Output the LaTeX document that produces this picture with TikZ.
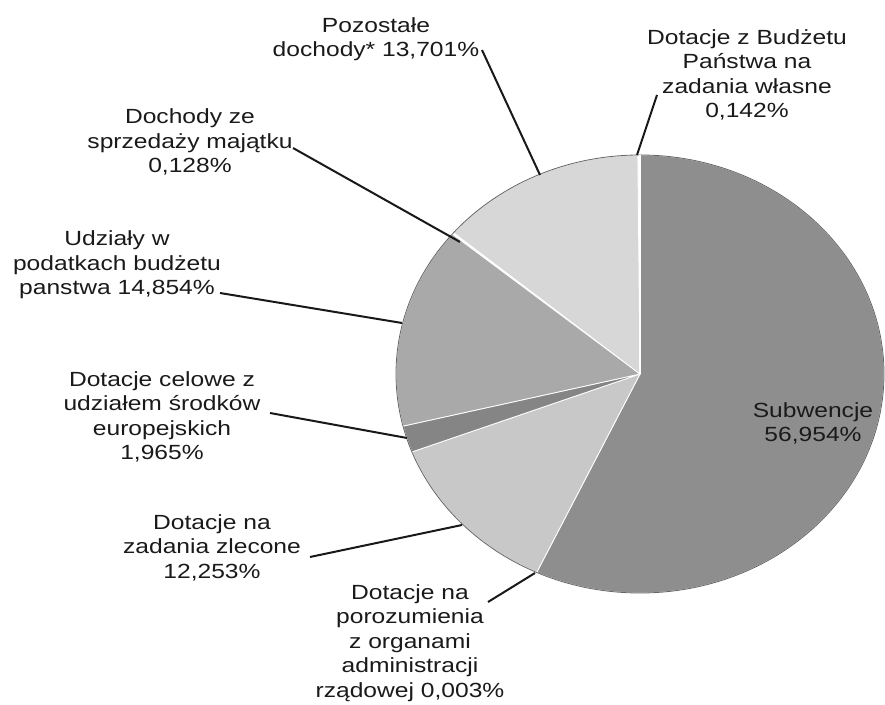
\documentclass[tikz,border=0pt]{standalone}
\usepackage{fontspec}
\setmainfont{Liberation Sans}[FakeStretch=1.2]
\begin{document}
\begin{tikzpicture}[x=1pt,y=1pt,
  lbl/.style={align=center,anchor=base,inner sep=0pt,text=txt,
    font=\fontsize{20.5}{24.5}\selectfont},
  leader/.style={draw=black!90,line width=2pt},
  slice/.style={draw=white,line width=0.8pt}]
\definecolor{txt}{HTML}{1A1A1A}
\definecolor{cSub}{HTML}{8E8E8E}
\definecolor{cZle}{HTML}{C8C8C8}
\definecolor{cCel}{HTML}{858585}
\definecolor{cUdz}{HTML}{A9A9A9}
\definecolor{cPoz}{HTML}{D7D7D7}
\useasboundingbox (0,0) rectangle (885,704);
\fill[white] (0,0) rectangle (885,704);
\coordinate (c) at (640,330);
% slices
\fill[cSub,slice] (c) -- ++(90:244pt and 219pt) arc[start angle=90,end angle=-115.034,x radius=244pt,y radius=219pt] -- cycle;
\fill[cZle,slice] (c) -- ++(-115.045:244pt and 219pt) arc[start angle=-115.045,end angle=-159.156,x radius=244pt,y radius=219pt] -- cycle;
\fill[cCel,slice] (c) -- ++(-159.156:244pt and 219pt) arc[start angle=-159.156,end angle=-166.230,x radius=244pt,y radius=219pt] -- cycle;
\fill[cUdz,slice] (c) -- ++(-166.230:244pt and 219pt) arc[start angle=-166.230,end angle=-219.704,x radius=244pt,y radius=219pt] -- cycle;
\fill[cPoz,slice] (c) -- ++(-220.165:244pt and 219pt) arc[start angle=-220.165,end angle=-269.489,x radius=244pt,y radius=219pt] -- cycle;
\draw[gray!80!black,line width=0.8pt] (c) ellipse[x radius=244pt,y radius=219pt];
\draw[white,line width=1.2pt] (c) -- ++(90:244pt and 219pt);
% labels (anchor = baseline of last line)
\node[lbl] (poz) at (376,647) {Pozostałe\\dochody* 13,701\%};
\node[lbl] (bud) at (747,586) {Dotacje z Budżetu\\Państwa na\\zadania własne\\0,142\%};
\node[lbl] (spr) at (190,531) {Dochody ze\\sprzedaży majątku\\0,128\%};
\node[lbl] (udz) at (117,409) {Udziały w\\podatkach budżetu\\panstwa 14,854\%};
\node[lbl] (cel) at (162,244) {Dotacje celowe z\\udziałem środków\\europejskich\\1,965\%};
\node[lbl] (zle) at (212,126) {Dotacje na\\zadania zlecone\\12,253\%};
\node[lbl] (por) at (410,7) {Dotacje na\\porozumienia\\z organami\\administracji\\rządowej 0,003\%};
\node[lbl] (sub) at (813,262) {Subwencje\\56,954\%};
% leader ends
\coordinate (pozA) at (482,654); \coordinate (pozB) at (540,529);
\coordinate (budA) at (657,609); \coordinate (budB) at (637,549);
\coordinate (sprA) at (293,556); \coordinate (sprB) at (460,462);
\coordinate (udzA) at (220,411); \coordinate (udzB) at (402,381);
\coordinate (celA) at (270,291); \coordinate (celB) at (407,266);
\coordinate (zleA) at (310,147); \coordinate (zleB) at (462,179);
\coordinate (porA) at (488,102); \coordinate (porB) at (535,131);
\draw[leader] (pozA) -- (pozB);
\draw[leader] (budA) -- (budB);
\draw[leader] (sprA) -- (sprB);
\draw[leader] (udzA) -- (udzB);
\draw[leader] (celA) -- (celB);
\draw[leader] (zleA) -- (zleB);
\draw[leader] (porA) -- (porB);
\end{tikzpicture}
\end{document}
